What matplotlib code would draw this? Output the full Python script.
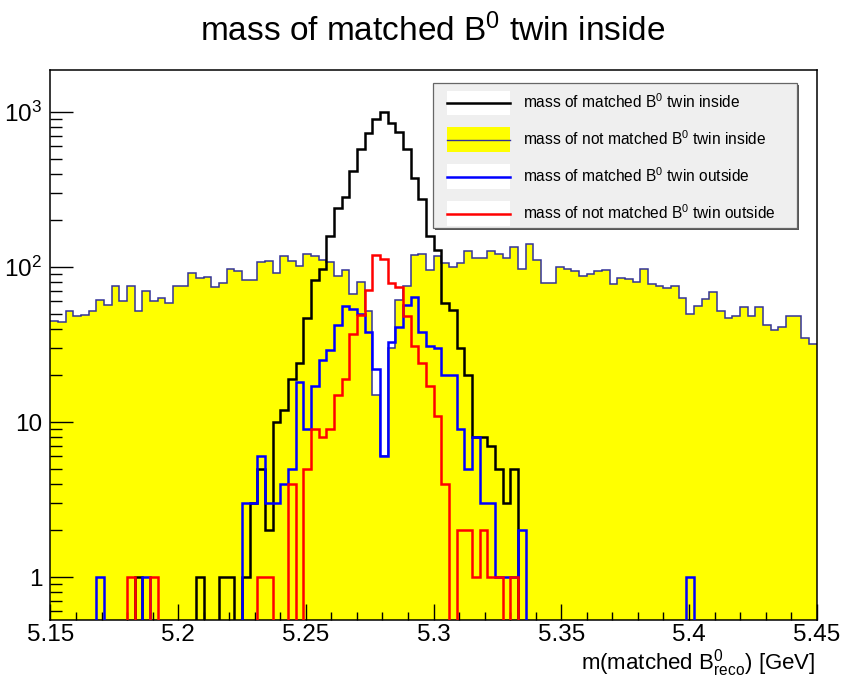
import numpy as np
import matplotlib
matplotlib.use('Agg')
import matplotlib.pyplot as plt
from matplotlib.patches import Patch, Rectangle
from matplotlib.lines import Line2D
from matplotlib.legend_handler import HandlerTuple, HandlerLine2D
from matplotlib.ticker import FixedLocator, FixedFormatter, LogLocator, NullFormatter

plt.rcParams['font.family'] = ['Liberation Sans', 'DejaVu Sans']
plt.rcParams['mathtext.fontset'] = 'custom'
plt.rcParams['mathtext.rm'] = 'Liberation Sans'
plt.rcParams['mathtext.it'] = 'Liberation Sans:italic'
plt.rcParams['mathtext.default'] = 'regular'

# 100 bins, 5.15 - 5.45 GeV
m_lo, m_hi, n_bins = 5.15, 5.45, 100

not_matched_inside = [45, 44, 52, 48, 49, 52, 61, 57, 76, 60,
                      76, 52, 70, 60, 63, 59, 76, 76, 92, 85,
                      86, 74, 79, 97, 94, 82, 82, 107, 110, 92,
                      118, 110, 101, 121, 117, 111, 107, 88, 95, 67,
                      80, 52, 15, 6, 30, 61, 75, 119, 121, 95,
                      118, 106, 100, 106, 127, 115, 115, 127, 122, 115,
                      135, 97, 140, 111, 79, 79, 100, 97, 94, 87,
                      90, 94, 96, 78, 85, 84, 80, 97, 78, 75,
                      73, 76, 63, 50, 56, 62, 69, 52, 47, 48,
                      55, 48, 55, 42, 39, 41, 48, 48, 35, 32]

matched_inside = [0, 0, 0, 0, 0, 0, 0, 0, 0, 0,
                  0, 1, 0, 0, 0, 0, 0, 0, 0, 1,
                  0, 0, 1, 1, 0, 1, 3, 5, 2, 10,
                  12, 19, 24, 47, 82, 97, 159, 239, 282, 418,
                  574, 735, 897, 1000, 846, 739, 574, 373, 273, 159,
                  129, 59, 53, 30, 20, 8, 8, 7, 5, 3,
                  5, 0, 0, 0, 0, 0, 0, 0, 0, 0,
                  0, 0, 0, 0, 0, 0, 0, 0, 0, 0,
                  0, 0, 0, 0, 0, 0, 0, 0, 0, 0,
                  0, 0, 0, 0, 0, 0, 0, 0, 0, 0]

matched_outside = [0, 0, 0, 0, 0, 0, 1, 0, 0, 0,
                   0, 0, 1, 0, 0, 0, 0, 0, 0, 0,
                   0, 0, 0, 0, 0, 3, 3, 6, 3, 3,
                   4, 5, 18, 9, 17, 25, 29, 42, 56, 54,
                   50, 38, 22, 6, 33, 41, 57, 64, 38, 31,
                   30, 20, 20, 9, 5, 8, 3, 3, 1, 1,
                   1, 2, 0, 0, 0, 0, 0, 0, 0, 0,
                   0, 0, 0, 0, 0, 0, 0, 0, 0, 0,
                   0, 0, 0, 1, 0, 0, 0, 0, 0, 0,
                   0, 0, 0, 0, 0, 0, 0, 0, 0, 0]

not_matched_outside = [0, 0, 0, 0, 0, 0, 0, 0, 0, 0,
                       1, 0, 0, 1, 0, 0, 0, 0, 0, 0,
                       0, 0, 0, 0, 0, 0, 0, 1, 1, 0,
                       0, 4, 0, 5, 9, 8, 9, 15, 19, 37,
                       49, 71, 119, 112, 79, 74, 48, 31, 24, 17,
                       11, 4, 0, 2, 2, 1, 2, 1, 1, 0,
                       1, 0, 0, 0, 0, 0, 0, 0, 0, 0,
                       0, 0, 0, 0, 0, 0, 0, 0, 0, 0,
                       0, 0, 0, 0, 0, 0, 0, 0, 0, 0,
                       0, 0, 0, 0, 0, 0, 0, 0, 0, 0]

labels = [r'mass of matched B$^{0}$ twin inside',
          r'mass of not matched B$^{0}$ twin inside',
          r'mass of matched B$^{0}$ twin outside',
          r'mass of not matched B$^{0}$ twin outside']

x_ticks = [5.15, 5.2, 5.25, 5.3, 5.35, 5.4, 5.45]
x_ticklabels = ['5.15', '5.2', '5.25', '5.3', '5.35', '5.4', '5.45']
y_ticks = [1, 10, 100, 1000]
y_ticklabels = ['1', '10', r'10$^{2}$', r'10$^{3}$']

edges = np.linspace(m_lo, m_hi, n_bins + 1)


def on_log(v):
    # empty bins drop below the visible range like in ROOT
    v = np.asarray(v, dtype=float)
    return np.where(v > 0, v, 1e-3)


class CenterLine(HandlerLine2D):
    # line through the middle of the legend box
    def create_artists(self, legend, orig_handle, xdescent, ydescent, width, height, fontsize, trans):
        arts = super().create_artists(legend, orig_handle, xdescent, ydescent, width, height, fontsize, trans)
        for a in arts:
            a.set_ydata(np.full(len(a.get_xdata()), height / 2 - ydescent))
        return arts


fig = plt.figure(figsize=(8.41, 6.78), dpi=100)
ax = fig.add_axes([0.0600, 0.0855, 0.9111, 0.8112])

ax.stairs(not_matched_inside, edges, fill=True, color='#ffff00', baseline=1e-3, zorder=1)
ax.stairs(not_matched_inside, edges, color='#333399', lw=1.1, baseline=None, zorder=2)
ax.stairs(on_log(matched_inside), edges, color='black', lw=1.8, baseline=None, zorder=3)
ax.stairs(on_log(matched_outside), edges, color='#0000ff', lw=1.8, baseline=None, zorder=4)
ax.stairs(on_log(not_matched_outside), edges, color='#ff0000', lw=1.8, baseline=None, zorder=5)

ax.set_yscale('log')
ax.set_xlim(m_lo, m_hi)
ax.set_ylim(0.528, 1866)

ax.xaxis.set_major_locator(FixedLocator(x_ticks))
ax.xaxis.set_major_formatter(FixedFormatter(x_ticklabels))
ax.xaxis.set_minor_locator(FixedLocator(np.arange(5.15, 5.4501, 0.01)))
ax.yaxis.set_major_locator(FixedLocator(y_ticks))
ax.yaxis.set_major_formatter(FixedFormatter(y_ticklabels))
ax.yaxis.set_minor_locator(LogLocator(base=10, subs=np.arange(2, 10)))
ax.yaxis.set_minor_formatter(NullFormatter())

ax.tick_params(axis='both', which='both', direction='in', top=False, right=False, width=1.0)
ax.tick_params(axis='x', which='major', length=11.5, pad=3, labelsize=17.5)
ax.tick_params(axis='x', which='minor', length=5.8)
ax.tick_params(axis='y', which='major', length=16.5, pad=6, labelsize=17.5)
ax.tick_params(axis='y', which='minor', length=8.3)
for s in ax.spines.values():
    s.set_linewidth(1.1)

fig.text(0.514, 0.954, r'mass of matched B$^{0}$ twin inside', ha='center', va='center', fontsize=24)
fig.text(0.969, 0.013, r'm(matched B$^{0}_{reco}$) [GeV]', ha='right', va='baseline', fontsize=16)

# legend box (ROOT style pave with a small shadow)
box_x0, box_y0, box_w, box_h = 433 / 841, 1 - 228 / 678, 364 / 841, 145 / 678
ax.add_patch(Rectangle((box_x0 + 2 / 841, box_y0 - 2 / 678), box_w, box_h, transform=fig.transFigure,
                       facecolor='#555555', edgecolor='none', clip_on=False, zorder=8))
ax.add_patch(Rectangle((box_x0, box_y0), box_w, box_h, transform=fig.transFigure,
                       facecolor='#efefef', edgecolor='#666666', lw=0.9, clip_on=False, zorder=9))

handles = [(Patch(facecolor='white', edgecolor='none'), Line2D([], [], color='black', lw=1.8)),
           (Patch(facecolor='#ffff00', edgecolor='none'), Line2D([], [], color='#333399', lw=1.0)),
           (Patch(facecolor='white', edgecolor='none'), Line2D([], [], color='#0000ff', lw=1.8)),
           (Patch(facecolor='white', edgecolor='none'), Line2D([], [], color='#ff0000', lw=1.8))]

leg = ax.legend(handles, labels, loc='upper left',
                bbox_to_anchor=(447 / 841, 1 - 90.5 / 678), bbox_transform=fig.transFigure,
                fontsize=11.2,
                handler_map={tuple: HandlerTuple(ndivide=1, pad=0), Line2D: CenterLine()},
                handlelength=4.05, handleheight=2.095, labelspacing=0.77, handletextpad=0.84,
                borderpad=0, borderaxespad=0, frameon=False)
leg.set_zorder(10)

fig.savefig('out.png', dpi=100)
